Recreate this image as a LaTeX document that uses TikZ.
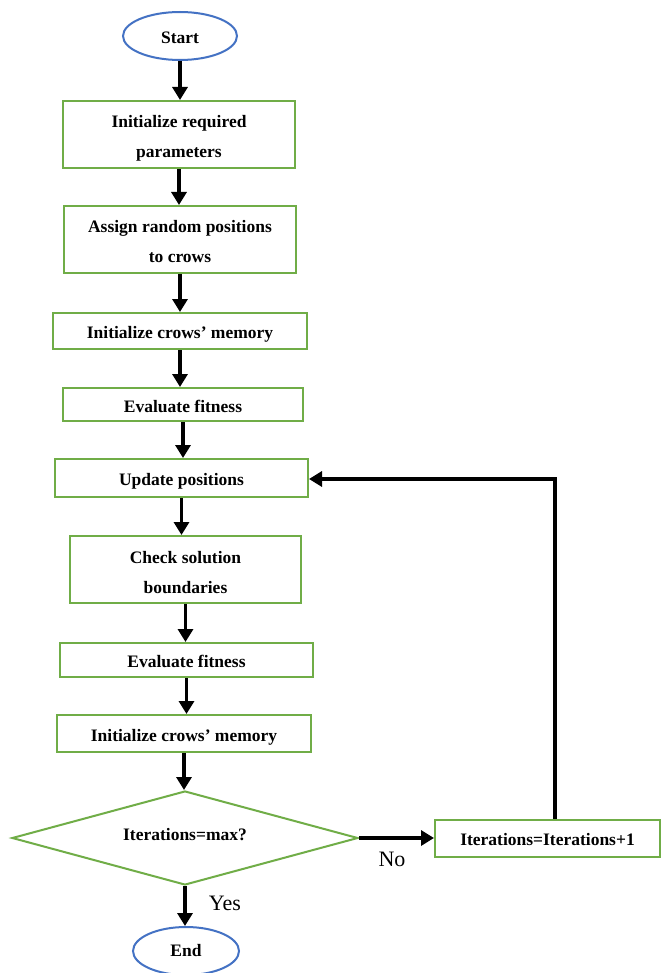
\documentclass[tikz,border=0pt]{standalone}
\usepackage{fontspec}
\setmainfont{Liberation Serif}
\usetikzlibrary{arrows.meta,shapes.geometric}
\definecolor{boxgreen}{HTML}{70AD47}
\definecolor{ovalblue}{HTML}{4472C4}
\tikzset{
  procbox/.style={draw=boxgreen, line width=2pt, rectangle, align=center,
    font=\bfseries\fontsize{17.5}{30}\selectfont, inner sep=0pt,
    text height=15pt, text depth=0pt},
  procbox2/.style={procbox, text height=47pt, text depth=0pt},
  terminal/.style={draw=ovalblue, line width=2pt, ellipse, inner sep=0pt,
    font=\bfseries\fontsize{17.5}{20}\selectfont, text depth=0pt},
  decision/.style={draw=boxgreen, line width=2pt, diamond, inner sep=0pt,
    font=\bfseries\fontsize{17.5}{20}\selectfont,
    text height=5.4pt, text depth=0pt},
  flow/.style={draw=black, line width=3.5pt, -{Triangle[length=13pt,width=15pt]}},
  branchlabel/.style={font=\fontsize{22}{26}\selectfont, inner sep=0pt, anchor=base},
}
\begin{document}
\begin{tikzpicture}[x=1pt,y=-1pt]
\useasboundingbox (0,0) rectangle (662,973);
\fill[white] (0,0) rectangle (662,973);

% terminals
\node[terminal, minimum width=114pt, minimum height=48pt, text height=16pt] (start) at (180,36) {Start};
\node[terminal, minimum width=106pt, minimum height=48pt, text height=11.4pt] (end) at (186,951) {End};

% process steps
\node[procbox2, minimum width=232pt, minimum height=67pt] (init) at (179,134.5) {Initialize required\\parameters};
\node[procbox2, minimum width=232pt, minimum height=67pt] (assign) at (180,239.5) {Assign random positions\\to crows};
\node[procbox, minimum width=254pt, minimum height=36pt] (mem1) at (180,331) {Initialize crows’ memory};
\node[procbox, minimum width=240pt, minimum height=33pt] (eval1) at (183,404.5) {Evaluate fitness};
\node[procbox, minimum width=253pt, minimum height=38pt] (update) at (181.5,478) {Update positions};
\node[procbox2, minimum width=231pt, minimum height=67pt] (check) at (185.5,569.5) {Check solution\\boundaries};
\node[procbox, minimum width=253pt, minimum height=34pt] (eval2) at (186.5,660) {Evaluate fitness};
\node[procbox, minimum width=254pt, minimum height=37pt] (mem2) at (184,733.5) {Initialize crows’ memory};

% loop test and counter
\node[decision, minimum width=346pt, minimum height=94pt, aspect=3.68] (test) at (185,838) {Iterations=max?};
\node[procbox, minimum width=225pt, minimum height=37pt] (incr) at (547.5,838) {Iterations=Iterations+1};

% main flow
\draw[flow] (start.south) -- (start.south |- init.north);
\draw[flow] (init.south) -- (init.south |- assign.north);
\draw[flow] (assign.south) -- (assign.south |- mem1.north);
\draw[flow] (mem1.south) -- (mem1.south |- eval1.north);
\draw[flow] (eval1.south) -- (eval1.south |- update.north);
\draw[flow] (update.south) -- (update.south |- check.north);
\draw[flow] (check.south) -- (check.south |- eval2.north);
\draw[flow] (eval2.south) -- (eval2.south |- mem2.north);
\draw[flow] (mem2.south) -- (mem2.south |- test.north);
\draw[flow] (test.south) -- (test.south |- end.north);
\draw[flow] (test.east) -- (incr.west);

% feedback loop
\coordinate (bend) at (555,479);
\draw[flow] (incr.north -| bend) -- (bend) -- (bend -| update.east);

% branch labels
\node[branchlabel] (nolbl) at (392,866) {No};
\node[branchlabel] (yeslbl) at (225,910) {Yes};
\end{tikzpicture}
\end{document}
